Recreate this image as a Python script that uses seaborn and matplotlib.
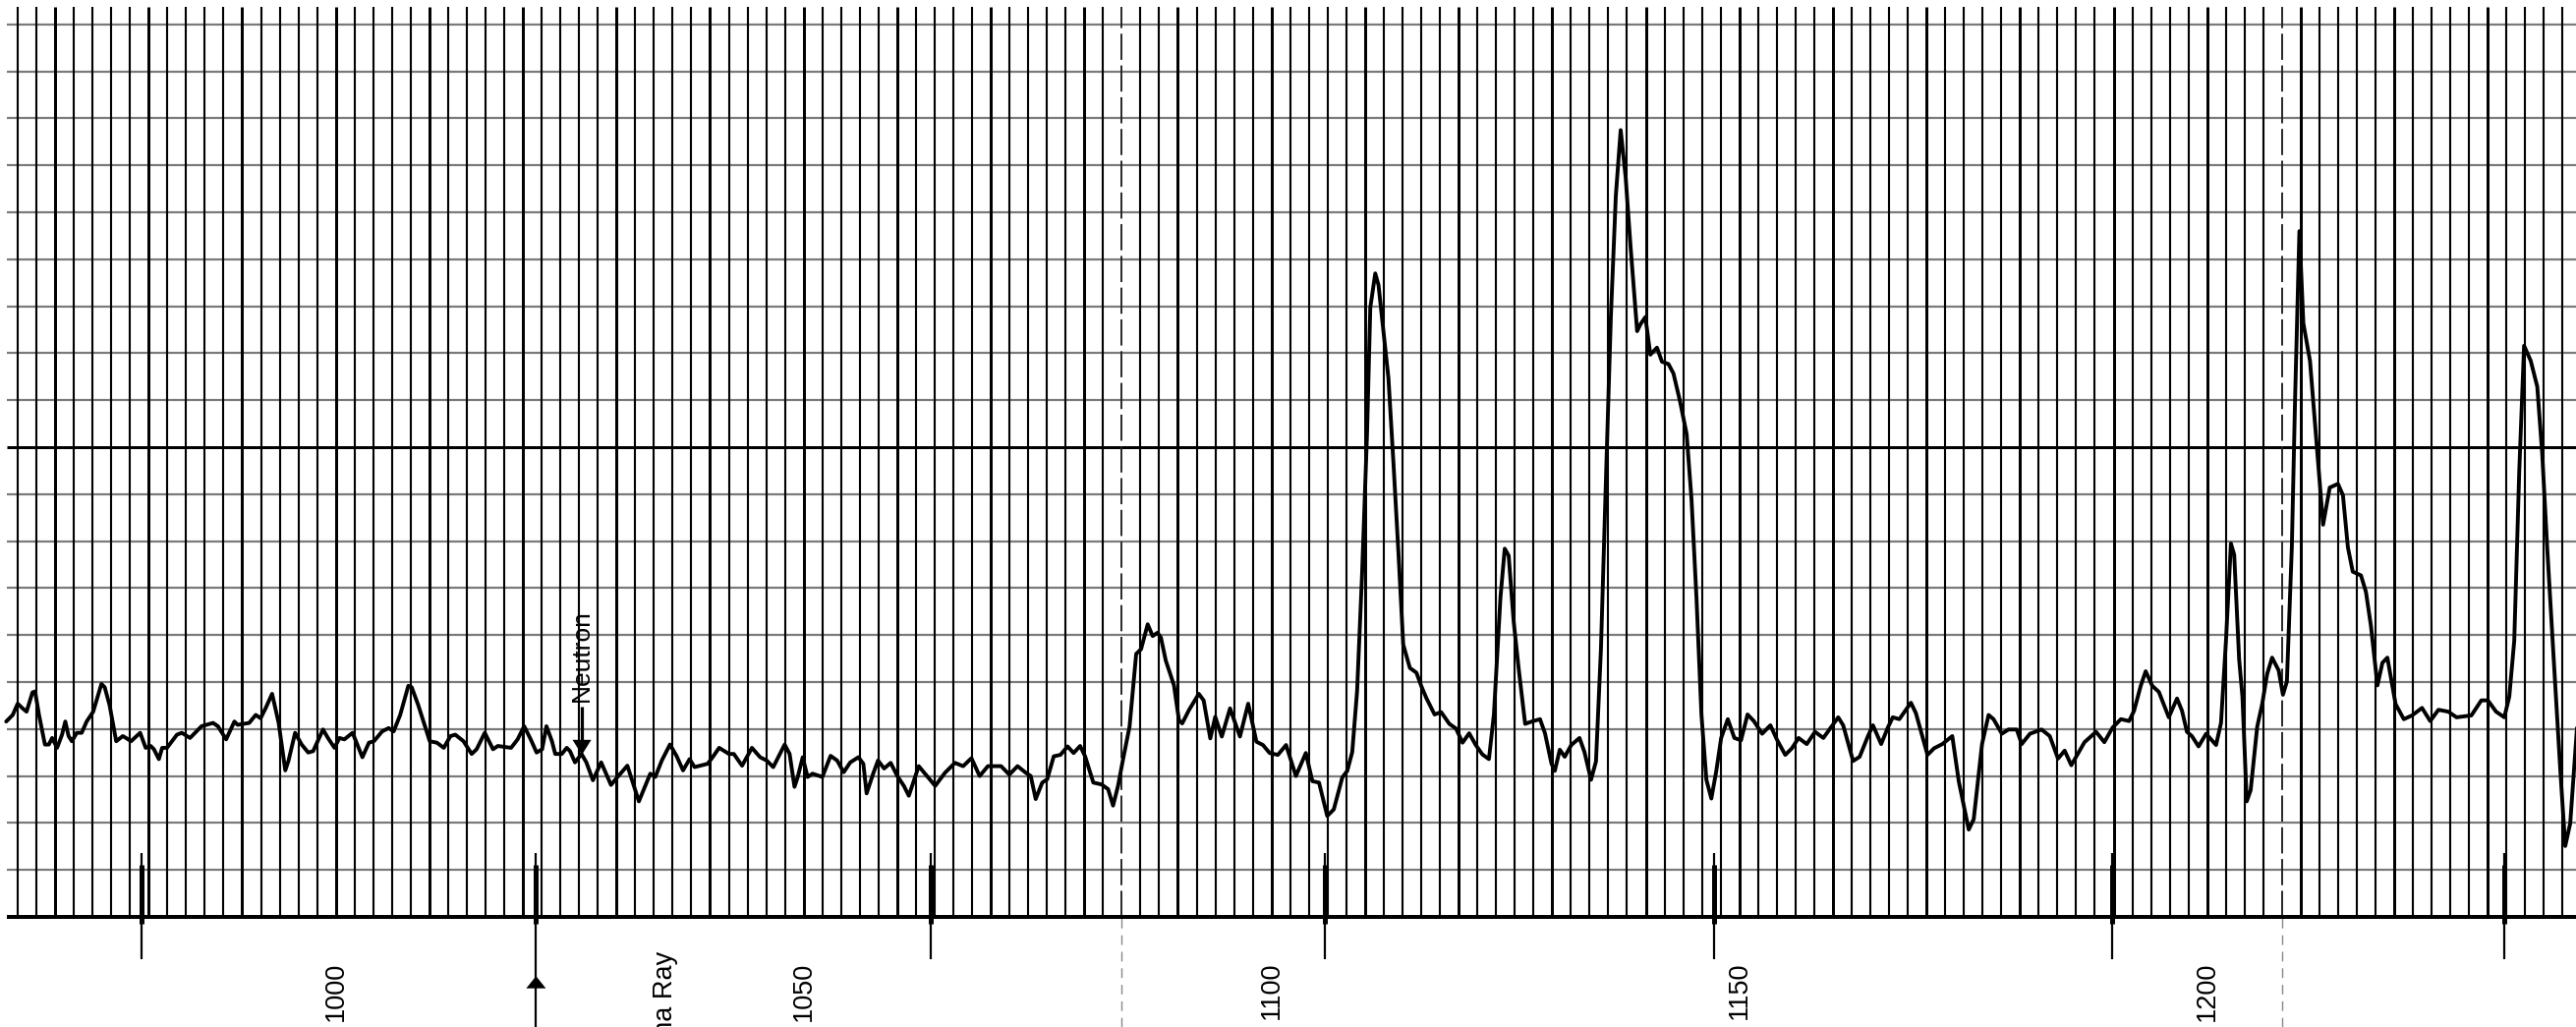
import numpy as np
import pandas as pd
import matplotlib
matplotlib.use("Agg")
import matplotlib.pyplot as plt
import seaborn as sns

# ---------------- data ----------------
depth = [
    964.77, 965.47, 966.00, 966.53, 966.95, 967.58, 967.86, 968.28, 968.91, 969.33,
    969.68, 970.21, 970.74, 971.09, 971.44, 971.79, 972.32, 972.84, 973.37, 974.07,
    974.95, 975.30, 975.82, 976.53, 977.23, 977.58, 978.11, 979.09, 979.68, 980.21,
    980.56, 981.09, 981.44, 981.96, 983.02, 983.54, 984.42, 985.65, 986.88, 987.40,
    988.28, 989.16, 989.51, 990.74, 991.44, 991.96, 992.49, 993.19, 993.89, 994.60,
    994.95, 995.65, 996.35, 997.05, 997.58, 998.63, 999.16, 999.86, 1000.39, 1000.91,
    1001.79, 1002.84, 1003.54, 1004.07, 1004.95, 1005.65, 1006.18, 1006.88, 1007.75, 1008.11,
    1008.81, 1010.04, 1010.80, 1011.54, 1012.25, 1012.77, 1013.65, 1014.52, 1015.05, 1015.92,
    1016.80, 1017.32, 1018.73, 1019.43, 1020.13, 1020.83, 1021.46, 1022.05, 1022.51, 1023.10,
    1023.45, 1024.15, 1024.68, 1025.03, 1025.56, 1026.26, 1026.78, 1027.48, 1028.36, 1029.41,
    1030.11, 1031.16, 1032.39, 1033.61, 1034.14, 1034.84, 1035.71, 1036.41, 1037.11, 1037.81,
    1038.34, 1039.74, 1040.27, 1040.97, 1042.02, 1042.54, 1043.42, 1044.47, 1045.35, 1046.05,
    1046.75, 1047.97, 1048.50, 1049.02, 1049.37, 1049.90, 1050.42, 1050.95, 1052.00, 1052.88,
    1053.58, 1054.28, 1054.98, 1055.85, 1056.38, 1056.73, 1057.43, 1057.95, 1058.60, 1059.30,
    1060.01, 1060.71, 1061.24, 1062.30, 1063.18, 1064.06, 1065.11, 1066.17, 1067.05, 1067.93,
    1068.81, 1069.69, 1071.10, 1071.98, 1072.86, 1073.74, 1074.27, 1074.80, 1075.50, 1076.03,
    1076.73, 1077.44, 1078.21, 1078.85, 1079.55, 1080.08, 1080.96, 1081.84, 1082.54, 1083.07,
    1083.60, 1084.13, 1084.83, 1085.54, 1086.06, 1086.77, 1087.30, 1087.82, 1088.18, 1088.70,
    1089.58, 1090.11, 1090.46, 1091.17, 1092.23, 1092.75, 1093.46, 1093.99, 1094.69, 1095.57,
    1096.63, 1097.51, 1098.39, 1099.09, 1099.80, 1100.68, 1101.56, 1102.61, 1103.67, 1104.37,
    1105.08, 1105.96, 1106.66, 1107.57, 1108.10, 1108.63, 1109.15, 1109.68, 1110.21, 1110.56,
    1111.09, 1111.44, 1111.97, 1112.50, 1113.03, 1113.56, 1114.08, 1114.79, 1115.49, 1116.02,
    1116.55, 1117.43, 1118.13, 1119.01, 1119.72, 1120.42, 1121.13, 1121.83, 1122.54, 1123.24,
    1123.77, 1124.47, 1124.93, 1125.35, 1125.88, 1126.41, 1127.11, 1127.82, 1128.70, 1129.23,
    1129.93, 1130.28, 1130.81, 1131.34, 1132.04, 1132.92, 1133.45, 1134.15, 1134.68, 1135.21,
    1135.74, 1136.27, 1136.80, 1137.32, 1137.85, 1138.38, 1139.08, 1139.44, 1139.96, 1140.49,
    1141.20, 1141.73, 1142.43, 1142.96, 1143.66, 1144.37, 1144.89, 1145.42, 1145.95, 1146.48,
    1147.01, 1147.54, 1148.06, 1148.77, 1149.47, 1150.18, 1150.88, 1151.55, 1152.44, 1153.32,
    1154.03, 1154.91, 1155.62, 1156.33, 1157.21, 1158.09, 1158.98, 1160.57, 1161.10, 1162.16,
    1162.86, 1163.75, 1164.28, 1165.16, 1165.87, 1166.40, 1167.10, 1168.34, 1168.87, 1170.11,
    1170.81, 1171.70, 1172.76, 1173.46, 1174.52, 1175.05, 1175.94, 1176.64, 1177.17, 1178.06,
    1178.76, 1179.65, 1180.18, 1181.06, 1182.30, 1183.18, 1184.06, 1184.77, 1185.48, 1186.89,
    1188.13, 1189.01, 1189.89, 1190.78, 1191.66, 1192.19, 1192.90, 1193.43, 1194.13, 1194.84,
    1195.90, 1196.78, 1197.31, 1197.84, 1198.37, 1199.08, 1199.89, 1200.95, 1201.48, 1202.01,
    1202.54, 1202.89, 1203.42, 1203.77, 1204.23, 1204.65, 1205.35, 1205.88, 1206.41, 1206.94,
    1207.64, 1208.10, 1208.52, 1209.05, 1209.40, 1209.86, 1210.28, 1210.99, 1211.69, 1212.39,
    1213.10, 1213.98, 1214.51, 1215.04, 1215.56, 1216.44, 1216.97, 1217.50, 1218.20, 1218.73,
    1219.26, 1220.14, 1221.02, 1221.90, 1222.96, 1223.84, 1224.72, 1225.77, 1226.65, 1228.24,
    1229.30, 1230.00, 1230.88, 1231.76, 1232.29, 1232.82, 1233.35, 1233.87, 1234.58, 1235.28,
    1235.81, 1236.34, 1237.04, 1237.75, 1238.27, 1238.80, 1239.33, 1240.04,
]
signal = [
    4.16, 4.30, 4.54, 4.44, 4.37, 4.78, 4.80, 4.30, 3.67, 3.67,
    3.81, 3.60, 3.88, 4.16, 3.85, 3.74, 3.92, 3.92, 4.16, 4.37,
    4.96, 4.89, 4.51, 3.74, 3.85, 3.81, 3.74, 3.92, 3.60, 3.64,
    3.57, 3.36, 3.60, 3.60, 3.88, 3.92, 3.81, 4.06, 4.13, 4.06,
    3.78, 4.16, 4.09, 4.13, 4.30, 4.23, 4.44, 4.75, 4.13, 3.12,
    3.33, 3.92, 3.67, 3.50, 3.53, 3.99, 3.81, 3.60, 3.81, 3.78,
    3.92, 3.40, 3.71, 3.74, 3.95, 4.02, 3.95, 4.30, 4.92, 4.89,
    4.51, 3.74, 3.71, 3.60, 3.85, 3.88, 3.74, 3.47, 3.57, 3.92,
    3.57, 3.64, 3.60, 3.78, 4.06, 3.78, 3.50, 3.57, 4.06, 3.74,
    3.47, 3.47, 3.60, 3.53, 3.29, 3.47, 3.29, 2.91, 3.29, 2.81,
    2.98, 3.22, 2.46, 3.05, 2.98, 3.33, 3.67, 3.43, 3.12, 3.36,
    3.19, 3.26, 3.40, 3.60, 3.47, 3.47, 3.22, 3.60, 3.40, 3.33,
    3.19, 3.67, 3.47, 2.77, 2.98, 3.40, 2.98, 3.05, 2.98, 3.43,
    3.33, 3.08, 3.29, 3.40, 3.26, 2.63, 3.05, 3.33, 3.16, 3.28,
    3.00, 2.79, 2.58, 3.21, 3.00, 2.79, 3.07, 3.28, 3.21, 3.38,
    3.00, 3.21, 3.21, 3.03, 3.21, 3.07, 3.00, 2.51, 2.86, 2.93,
    3.42, 3.45, 3.63, 3.49, 3.64, 3.42, 2.86, 2.82, 2.72, 2.37,
    2.79, 3.35, 4.05, 5.60, 5.70, 6.23, 5.98, 6.05, 5.95, 5.46,
    4.93, 4.19, 4.12, 4.40, 4.75, 4.61, 3.80, 4.26, 3.84, 4.44,
    3.84, 4.54, 3.73, 3.66, 3.49, 3.45, 3.66, 3.00, 3.49, 2.89,
    2.86, 2.15, 2.29, 2.97, 3.11, 3.51, 4.81, 7.29, 10.28, 12.97,
    13.70, 13.45, 12.47, 11.47, 9.68, 7.79, 5.80, 5.30, 5.20, 4.91,
    4.66, 4.31, 4.36, 4.11, 4.01, 3.71, 3.91, 3.66, 3.46, 3.36,
    4.31, 6.80, 7.84, 7.69, 6.30, 5.30, 4.11, 4.16, 4.21, 3.91,
    3.26, 3.11, 3.56, 3.41, 3.66, 3.81, 3.51, 2.92, 3.31, 5.70,
    9.28, 12.77, 15.35, 16.75, 15.75, 14.26, 12.47, 12.62, 12.77, 11.97,
    12.12, 11.82, 11.77, 11.57, 10.98, 10.28, 8.89, 6.80, 4.31, 2.92,
    2.52, 3.11, 3.81, 4.21, 3.81, 3.76, 4.31, 4.17, 3.90, 4.08,
    3.77, 3.45, 3.59, 3.81, 3.68, 3.94, 3.81, 4.25, 4.08, 3.32,
    3.41, 3.85, 4.08, 3.68, 4.03, 4.25, 4.21, 4.56, 4.34, 3.45,
    3.59, 3.68, 3.85, 2.88, 1.86, 2.08, 3.68, 4.30, 4.21, 3.90,
    3.99, 3.99, 3.68, 3.90, 3.99, 3.85, 3.37, 3.54, 3.23, 3.72,
    3.94, 3.72, 4.03, 4.21, 4.17, 4.39, 4.92, 5.23, 4.92, 4.79,
    4.25, 4.65, 4.39, 3.94, 3.85, 3.63, 3.90, 3.66, 4.13, 5.88,
    7.95, 7.71, 5.48, 4.69, 2.46, 2.70, 4.05, 4.53, 5.17, 5.52,
    5.25, 4.73, 5.01, 7.87, 11.05, 14.60, 12.64, 11.84, 10.10, 8.35,
    9.14, 9.22, 8.98, 7.87, 7.35, 7.27, 6.92, 6.20, 4.93, 5.41,
    5.52, 4.53, 4.21, 4.29, 4.45, 4.17, 4.41, 4.37, 4.25, 4.29,
    4.61, 4.61, 4.37, 4.25, 4.69, 5.88, 9.46, 12.16, 11.84, 11.29,
    9.86, 7.87, 5.48, 3.10, 1.51, 1.99, 3.50, 5.41,
]

depth_labels = [1000, 1050, 1100, 1150, 1200]
marker_depths = [979.2, 1021.4, 1063.6, 1105.7, 1147.3, 1189.8, 1231.8]
arrow_marker_depth = 1021.4
fold_depths = [1084, 1208]
neutron_depth = 1026.3
neutron_level = 3.45
gamma_depth = 1035.2
neutron_text = "Neutron"
gamma_text = "Gamma Ray"

# ---------------- figure ----------------
sns.set_style("white")
plt.rcParams['font.family'] = ['Liberation Sans', 'DejaVu Sans']

W_PX, H_PX, DPI = 2621, 1045, 100
PT = 72.0 / DPI  # points per pixel

fig = plt.figure(figsize=(W_PX / DPI, H_PX / DPI), dpi=DPI)
fig.patch.set_facecolor("white")
ax = fig.add_axes([0, 0, 1, 1])
X0, X1 = 964.11, 1239.42
Y0, Y1 = -2.343, 19.52

grid_left = 964.8
grid_top = 19.37

# horizontal chart-paper lines
for k in range(1, 20):
    if k == 10:
        ax.hlines(k, grid_left, X1, color="black", lw=3.0 * PT, zorder=1)
    else:
        ax.hlines(k, grid_left, X1, color="#7a7a7a", lw=2.2 * PT, zorder=1)
ax.hlines(0, grid_left, X1, color="black", lw=4.0 * PT, zorder=3)

# vertical chart-paper lines (every 2 depth units, heavy every 10)
for x in np.arange(966, 1239, 2):
    if x in fold_depths:
        ax.vlines(x, 0, grid_top, color="#222222", lw=1.9 * PT,
                  linestyles=(0, (14, 3)), zorder=1.5)
        ax.vlines(x, Y0, 0, color="#888888", lw=1.4 * PT,
                  linestyles=(0, (7, 5)), zorder=1.5)
        continue
    heavy = (x % 10 == 0)
    ax.vlines(x, 0, grid_top, color="black",
              lw=(3.0 if heavy else 2.1) * PT, zorder=1.5)

# depth marker ticks under the chart
for m in marker_depths:
    low = Y0 if m == arrow_marker_depth else -0.9
    ax.vlines(m, low, 1.35, color="black", lw=2.2 * PT, zorder=4)
    ax.vlines(m, -0.15, 1.1, color="black", lw=5.0 * PT, zorder=4)

# up arrow head on the marked tick
ah_w, ah_l = 1.05, 0.26
tip = -1.26
ax.fill([arrow_marker_depth - ah_w, arrow_marker_depth + ah_w, arrow_marker_depth],
        [tip - ah_l, tip - ah_l, tip], color="black", zorder=5, lw=0)

# trace
df = pd.DataFrame({"depth": depth, "signal": signal})
sns.lineplot(data=df, x="depth", y="signal", sort=False, estimator=None,
             color="black", linewidth=3.9 * PT, ax=ax, zorder=6)
for line in ax.get_lines():
    line.set_solid_joinstyle("round")
    line.set_solid_capstyle("round")

# Neutron annotation (down arrow)
ax.vlines(neutron_depth, neutron_level + 0.3, 4.47, color="black", lw=3.2 * PT, zorder=7)
ax.fill([neutron_depth - 1.0, neutron_depth + 1.0, neutron_depth],
        [neutron_level + 0.32, neutron_level + 0.32, neutron_level],
        color="black", zorder=7, lw=0)
ax.text(neutron_depth, 4.58, neutron_text, rotation=90, ha="center", va="bottom",
        fontsize=19, color="black", zorder=8)

# depth labels and Gamma Ray label below the chart
for d in depth_labels:
    ax.text(d, -0.95, str(d), rotation=90, ha="center", va="top",
            fontsize=19.5, color="black")
ax.text(gamma_depth, -0.72, gamma_text, rotation=90, ha="center", va="top",
        fontsize=19.5, color="black")

ax.set_xlim(X0, X1)
ax.set_ylim(Y0, Y1)
ax.set_xlabel("")
ax.set_ylabel("")
ax.axis("off")
if ax.get_legend() is not None:
    ax.get_legend().remove()

fig.savefig("out.png", dpi=DPI, facecolor="white")
